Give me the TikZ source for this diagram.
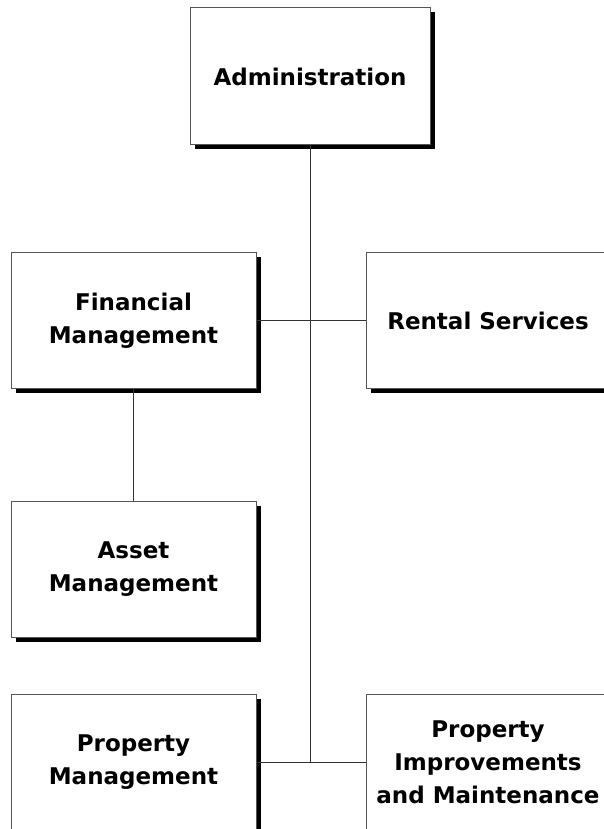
\documentclass[tikz,border=0pt]{standalone}
\usepackage{fontspec}
\setmainfont{DejaVu Sans}
\usetikzlibrary{positioning, shadows}
\definecolor{borderGray}{HTML}{555555}
\definecolor{lineGray}{HTML}{333333}
\tikzset{
  unitbox/.style={draw=borderGray, fill=white, line width=1pt,
    minimum width=245pt, minimum height=136pt, inner sep=0pt,
    font=\bfseries\fontsize{23}{33}\selectfont, align=center,
    drop shadow={shadow xshift=4.5pt, shadow yshift=-4.5pt, fill=black, opacity=1}},
  % boxes that run off the right edge of the page
  cutbox/.style={unitbox, minimum width=300pt},
  unittext/.style={font=\bfseries\fontsize{23}{33}\selectfont, align=center, inner sep=0pt},
  link/.style={draw=lineGray, line width=1pt},
}
\begin{document}
\begin{tikzpicture}[x=1pt, y=1pt]

  \fill[white] (0,0) rectangle (603,-829);
  \useasboundingbox (0,0) rectangle (603,-829);

  % === Top: Administration ===
  \node[unitbox, minimum width=240pt, minimum height=137pt] (admin) at (310,-76.5) {Administration};

  % === Row 2 ===
  \node[unitbox] (finance) at (133.5,-320.5) {Financial\\Management};
  \node[cutbox, right=109pt of finance] (rental) {};
  \node[unittext] (rentalText) at ([xshift=122.5pt]rental.west) {Rental Services};

  % === Row 3 ===
  \node[unitbox, below=112pt of finance] (asset) {Asset\\Management};

  % === Row 4 ===
  \node[unitbox, below=56pt of asset] (propmgmt) {Property\\Management};
  \node[cutbox, right=109pt of propmgmt] (propimpr) {};
  \node[unittext] (propimprText) at ([xshift=122.5pt]propimpr.west) {Property\\Improvements\\and Maintenance};

  % Connectors
  \coordinate (trunkEnd) at (admin.south |- propmgmt.east);
  \draw[link] (admin.south) -- (trunkEnd);
  \draw[link] (finance.east) -- (rental.west);
  \draw[link] (finance.south) -- (asset.north);
  \draw[link] (propmgmt.east) -- (propimpr.west);

\end{tikzpicture}
\end{document}
